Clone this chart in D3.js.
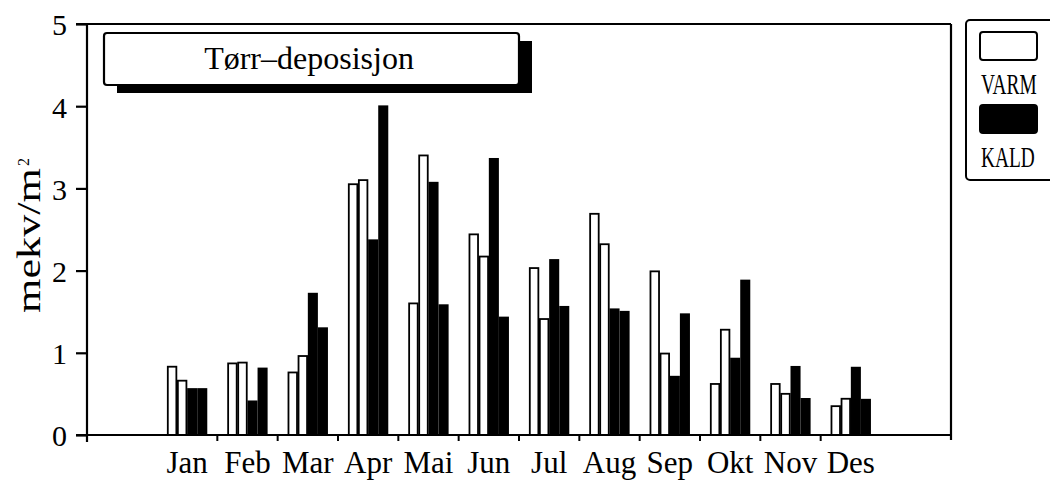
<!DOCTYPE html>
<html><head><meta charset="utf-8">
<script src="https://cdn.jsdelivr.net/npm/d3@7"></script>
<style>
html,body{margin:0;padding:0;background:#fff;}
svg{display:block;}
text{font-family:"Liberation Serif","Times New Roman",serif;fill:#000;}
</style></head>
<body>
<svg id="chart" width="1050" height="480"></svg>
<script>
const months = ["Jan","Feb","Mar","Apr","Mai","Jun","Jul","Aug","Sep","Okt","Nov","Des"];
const varm1 = [0.84,0.88,0.77,3.06,1.61,2.45,2.04,2.70,2.00,0.63,0.63,0.36];
const varm2 = [0.67,0.89,0.97,3.11,3.41,2.18,1.42,2.33,1.00,1.29,0.51,0.45];
const kald1 = [0.57,0.42,1.73,2.38,3.08,3.37,2.14,1.54,0.72,0.94,0.84,0.83];
const kald2 = [0.57,0.82,1.31,4.01,1.59,1.44,1.57,1.51,1.48,1.89,0.45,0.44];
const yTicks = [0,1,2,3,4,5];
const seriesNames = ["VARM 1","VARM 2","KALD 1","KALD 2"];
const seriesType = ["VARM","VARM","KALD","KALD"];
const seriesData = [varm1,varm2,kald1,kald2];
const legendItems = ["VARM","KALD"];
const title = "Tørr–deposisjon";

const svg = d3.select("#chart");
const L = 87, R = 951, T = 24, B = 435;

const y = d3.scaleLinear().domain([0,5]).range([B,T]);
const x = d3.scaleBand().domain(months).range([157,881]).padding(0);
const xs = d3.scaleBand().domain(seriesNames)
  .range([x.bandwidth()/6, x.bandwidth()*5/6]).padding(0);

const rows = [];
months.forEach((m,i)=>{
  seriesNames.forEach((s,j)=>{
    rows.push({month:m, series:s, type:seriesType[j], value:seriesData[j][i]});
  });
});

// bars
svg.append("g").selectAll("rect").data(rows).join("rect")
  .attr("x", d=>x(d.month)+xs(d.series)+(d.type==="VARM"?0.75:0))
  .attr("y", d=>y(d.value)+(d.type==="VARM"?0.75:0))
  .attr("width", d=>xs.bandwidth()-(d.type==="VARM"?1.5:0))
  .attr("height", d=>y(0)-y(d.value)-(d.type==="VARM"?0.75:0))
  .attr("fill", d=>d.type==="VARM"?"#fff":"#000")
  .attr("stroke", d=>d.type==="VARM"?"#000":"none")
  .attr("stroke-width", 1.8);

// frame
const frame = svg.append("g").attr("stroke","#000").attr("stroke-width",2.2).attr("fill","none");
frame.append("line").attr("x1",76).attr("x2",R).attr("y1",T).attr("y2",T);
frame.append("line").attr("x1",R).attr("x2",R).attr("y1",T).attr("y2",B+5);

// y axis
const yAxis = svg.append("g").attr("transform",`translate(${L},0)`)
  .call(d3.axisLeft(y).tickValues(yTicks).tickSize(11).tickPadding(9).tickFormat(d3.format("d")));
yAxis.select(".domain").attr("d",`M0,${T}V${B+7}`).attr("stroke-width",2.2);
yAxis.selectAll(".tick line").attr("stroke-width",2.2);
yAxis.selectAll(".tick text").attr("font-size","30px")
  .attr("font-family","'Liberation Serif',serif").attr("dy","0.36em");

// x axis
const bounds = months.slice(1).map(m=>x(m));
const xAxisG = svg.append("g").attr("transform",`translate(0,${B})`);
xAxisG.append("line").attr("x1",76).attr("x2",R).attr("y1",0).attr("y2",0)
  .attr("stroke","#000").attr("stroke-width",2.2);
xAxisG.selectAll("line.tk").data(bounds).join("line").attr("class","tk")
  .attr("x1",d=>d).attr("x2",d=>d).attr("y1",0).attr("y2",6)
  .attr("stroke","#000").attr("stroke-width",2);
xAxisG.selectAll("text").data(months).join("text")
  .attr("x",d=>x(d)+x.bandwidth()/2).attr("y",38)
  .attr("text-anchor","middle").attr("font-size","31px").text(d=>d);

// y label
svg.append("text").attr("transform","translate(40,313) rotate(-90)")
  .attr("font-size","34px").attr("textLength",145).attr("lengthAdjust","spacingAndGlyphs")
  .text("mekv/m");
svg.append("text").attr("transform","translate(29,166) rotate(-90)")
  .attr("font-size","16px").text("2");

// title box
svg.append("rect").attr("x",117).attr("y",41).attr("width",415).attr("height",52).attr("fill","#000");
svg.append("rect").attr("x",104).attr("y",33).attr("width",415).attr("height",52).attr("rx",3)
  .attr("fill","#fff").attr("stroke","#000").attr("stroke-width",2.2);
svg.append("text").attr("x",309).attr("y",69).attr("text-anchor","middle")
  .attr("font-size","32px").text(title);

// legend
const lg = svg.append("g");
lg.append("rect").attr("x",966).attr("y",20).attr("width",100).attr("height",160).attr("rx",4)
  .attr("fill","#fff").attr("stroke","#000").attr("stroke-width",2);
const legY = [32,105];
legendItems.forEach((name,i)=>{
  lg.append("rect").attr("x",980).attr("y",legY[i]).attr("width",57).attr("height",28).attr("rx",3)
    .attr("fill", name==="VARM"?"#fff":"#000").attr("stroke","#000").attr("stroke-width",2);
  lg.append("text").attr("transform",`translate(981,${legY[i]+62}) scale(0.97,1.5)`)
    .attr("font-size","20px").text(name);
});
</script>
</body></html>
